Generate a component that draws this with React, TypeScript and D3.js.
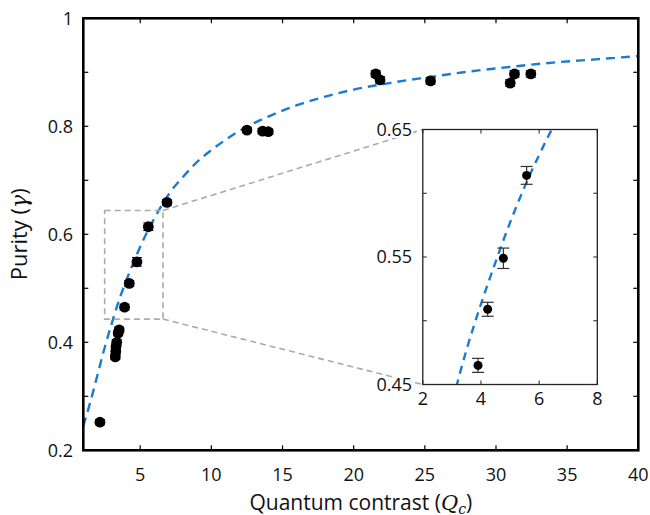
import React from "react";
import * as d3 from "d3";

// Measured data: Quantum contrast (Qc) vs Purity (gamma)
const qcValues = [2.17, 3.25, 3.28, 3.3, 3.35, 3.45, 3.52, 3.9, 4.23, 4.77, 5.57, 6.88, 12.5, 13.6, 14.0, 21.55, 21.85, 25.4, 31.0, 31.3, 32.45];
const purityValues = [0.252, 0.373, 0.383, 0.392, 0.4, 0.417, 0.423, 0.465, 0.509, 0.549, 0.614, 0.659, 0.793, 0.791, 0.79, 0.897, 0.886, 0.884, 0.88, 0.897, 0.897];
const purityErrors = [0.005, 0.005, 0.005, 0.005, 0.005, 0.005, 0.005, 0.0055, 0.0055, 0.008, 0.007, 0.005, 0.005, 0.005, 0.005, 0.006, 0.006, 0.006, 0.006, 0.006, 0.006];

// Fit curve
const fitQc = [1.0, 1.5, 2.0, 2.5, 3.0, 3.5, 4.0, 4.5, 5.0, 5.5, 6.0, 6.5, 7.0, 8.0, 9.0, 10, 11, 12, 13, 14, 16, 18, 20, 22.5, 25, 28, 31, 34, 37, 40];
const fitPurity = [0.245, 0.29, 0.34, 0.39, 0.435, 0.477, 0.513, 0.546, 0.577, 0.605, 0.63, 0.653, 0.674, 0.706, 0.734, 0.756, 0.775, 0.792, 0.806, 0.818, 0.839, 0.855, 0.868, 0.88, 0.89, 0.901, 0.91, 0.918, 0.924, 0.93];

// Axes
const xTicksMain = [5, 10, 15, 20, 25, 30, 35, 40];
const yTicksMain = [0.2, 0.3, 0.4, 0.5, 0.6, 0.7, 0.8, 0.9, 1];
const yLabelsMain = [0.2, 0.4, 0.6, 0.8, 1];
const xTicksInset = [2, 4, 6, 8];
const yTicksInset = [0.45, 0.5, 0.55, 0.6, 0.65];
const yLabelsInset = [0.45, 0.55, 0.65];

// zoom box in main coordinates: [x0, x1], [y0, y1]
const zoomBoxX = [2.5, 6.6];
const zoomBoxY = [0.443, 0.644];

const FONT = "'Open Sans', 'Noto Sans', sans-serif";

export default function App() {
  const x = d3.scaleLinear().domain([1, 40]).range([83.3, 638.3]);
  const y = d3.scaleLinear().domain([0.2, 1]).range([450.3, 18.3]);
  const xi = d3.scaleLinear().domain([2, 8]).range([422.8, 597.3]);
  const yi = d3.scaleLinear().domain([0.45, 0.65]).range([384.5, 129.5]);

  const fit = fitQc.map((q, i) => [q, fitPurity[i]] as [number, number]);
  const pts = qcValues.map((q, i) => ({ q, p: purityValues[i], e: purityErrors[i] }));

  const lineMain = d3.line<[number, number]>().x(d => x(d[0])).y(d => y(d[1])).curve(d3.curveMonotoneX);
  const lineInset = d3.line<[number, number]>().x(d => xi(d[0])).y(d => yi(d[1])).curve(d3.curveMonotoneX);

  const [x0, x1] = x.range();
  const [y0, y1] = y.range();
  const [ix0, ix1] = xi.range();
  const [iy0, iy1] = yi.range();

  const blue = "#1a7bd0";
  const insetPts = pts.filter(d => d.q >= 2 && d.q <= 8 && d.p >= 0.45 && d.p <= 0.65 && d.q > 3.8);

  return (
    <svg width={650} height={515} style={{ position: "absolute", left: 0, top: 0, background: "#fff" }} fontFamily={FONT}>
      <defs>
        <clipPath id="clipMain">
          <rect x={x0} y={y1} width={x1 - x0} height={y0 - y1} />
        </clipPath>
        <clipPath id="clipInset">
          <rect x={ix0} y={iy1} width={ix1 - ix0} height={iy0 - iy1} />
        </clipPath>
      </defs>

      {/* main ticks */}
      {xTicksMain.map(t => (
        <g key={"xt" + t}>
          <line x1={x(t)} x2={x(t)} y1={y0} y2={y0 - 5} stroke="#000" strokeWidth={1.2} />
          <line x1={x(t)} x2={x(t)} y1={y1} y2={y1 + 5} stroke="#000" strokeWidth={1.2} />
          <text x={x(t)} y={481} textAnchor="middle" fontSize={18} fill="#111">{t}</text>
        </g>
      ))}
      {yTicksMain.map(t => (
        <g key={"yt" + t}>
          <line x1={x0} x2={x0 + 5} y1={y(t)} y2={y(t)} stroke="#000" strokeWidth={1.2} />
          <line x1={x1} x2={x1 - 5} y1={y(t)} y2={y(t)} stroke="#000" strokeWidth={1.2} />
        </g>
      ))}
      {yLabelsMain.map(t => (
        <text key={"yl" + t} x={73} y={y(t)} dy="0.35em" textAnchor="end" fontSize={18} fill="#111">{t}</text>
      ))}

      {/* fit curve main */}
      <path d={lineMain(fit) || ""} fill="none" stroke={blue} strokeWidth={2.4} strokeDasharray="9,6" clipPath="url(#clipMain)" />

      {/* zoom box */}
      <rect x={x(zoomBoxX[0])} y={y(zoomBoxY[1])} width={x(zoomBoxX[1]) - x(zoomBoxX[0])} height={y(zoomBoxY[0]) - y(zoomBoxY[1])}
        fill="none" stroke="#aaa" strokeWidth={1.6} strokeDasharray="6,4" />
      <line x1={x(zoomBoxX[1])} y1={y(zoomBoxY[1])} x2={ix0} y2={iy1} stroke="#aaa" strokeWidth={1.6} strokeDasharray="6,4" />
      <line x1={x(zoomBoxX[1])} y1={y(zoomBoxY[0])} x2={ix0} y2={iy0} stroke="#aaa" strokeWidth={1.6} strokeDasharray="6,4" />

      {/* main points */}
      {pts.map((d, i) => (
        <g key={"p" + i}>
          <line x1={x(d.q)} x2={x(d.q)} y1={y(d.p - d.e)} y2={y(d.p + d.e)} stroke="#000" strokeWidth={1} />
          <line x1={x(d.q) - 5} x2={x(d.q) + 5} y1={y(d.p - d.e)} y2={y(d.p - d.e)} stroke="#000" strokeWidth={1} />
          <line x1={x(d.q) - 5} x2={x(d.q) + 5} y1={y(d.p + d.e)} y2={y(d.p + d.e)} stroke="#000" strokeWidth={1} />
          <circle cx={x(d.q)} cy={y(d.p)} r={5.4} fill="#000" />
        </g>
      ))}

      {/* main frame */}
      <rect x={x0} y={y1} width={x1 - x0} height={y0 - y1} fill="none" stroke="#000" strokeWidth={2.6} />

      {/* axis titles */}
      <text x={(x0 + x1) / 2} y={509.5} textAnchor="middle" fontSize={21} fill="#111">
        Quantum contrast (<tspan fontStyle="italic" fontFamily="'DejaVu Serif', serif">Q</tspan><tspan fontStyle="italic" fontFamily="'DejaVu Serif', serif" fontSize={14} dy={4}>c</tspan><tspan dy={-4}>)</tspan>
      </text>
      <text transform={`translate(27, ${(y0 + y1) / 2}) rotate(-90)`} textAnchor="middle" fontSize={22} fill="#111">
        Purity (<tspan fontStyle="italic" fontFamily="'DejaVu Serif', serif">γ</tspan>)
      </text>

      {/* inset */}
      <rect x={ix0} y={iy1} width={ix1 - ix0} height={iy0 - iy1} fill="#fff" />
      <path d={lineInset(fit) || ""} fill="none" stroke={blue} strokeWidth={2.4} strokeDasharray="8,6" clipPath="url(#clipInset)" />
      {insetPts.map((d, i) => (
        <g key={"ip" + i}>
          <line x1={xi(d.q)} x2={xi(d.q)} y1={yi(d.p - d.e)} y2={yi(d.p + d.e)} stroke="#333" strokeWidth={1.2} />
          <line x1={xi(d.q) - 6} x2={xi(d.q) + 6} y1={yi(d.p - d.e)} y2={yi(d.p - d.e)} stroke="#333" strokeWidth={1.2} />
          <line x1={xi(d.q) - 6} x2={xi(d.q) + 6} y1={yi(d.p + d.e)} y2={yi(d.p + d.e)} stroke="#333" strokeWidth={1.2} />
          <circle cx={xi(d.q)} cy={yi(d.p)} r={4.5} fill="#000" />
        </g>
      ))}
      {xTicksInset.map(t => (
        <g key={"ixt" + t}>
          <line x1={xi(t)} x2={xi(t)} y1={iy0} y2={iy0 - 4} stroke="#222" strokeWidth={1} />
          <line x1={xi(t)} x2={xi(t)} y1={iy1} y2={iy1 + 4} stroke="#222" strokeWidth={1} />
          <text x={xi(t)} y={405} textAnchor="middle" fontSize={18} fill="#111">{t}</text>
        </g>
      ))}
      {yTicksInset.map(t => (
        <g key={"iyt" + t}>
          <line x1={ix0} x2={ix0 + 4} y1={yi(t)} y2={yi(t)} stroke="#222" strokeWidth={1} />
          <line x1={ix1} x2={ix1 - 4} y1={yi(t)} y2={yi(t)} stroke="#222" strokeWidth={1} />
        </g>
      ))}
      {yLabelsInset.map(t => (
        <text key={"iyl" + t} x={412} y={yi(t)} dy="0.35em" textAnchor="end" fontSize={18} fill="#111"
          stroke="#fff" strokeWidth={4} paintOrder="stroke">{t.toFixed(2)}</text>
      ))}
      <rect x={ix0} y={iy1} width={ix1 - ix0} height={iy0 - iy1} fill="none" stroke="#222" strokeWidth={1.3} />
    </svg>
  );
}
